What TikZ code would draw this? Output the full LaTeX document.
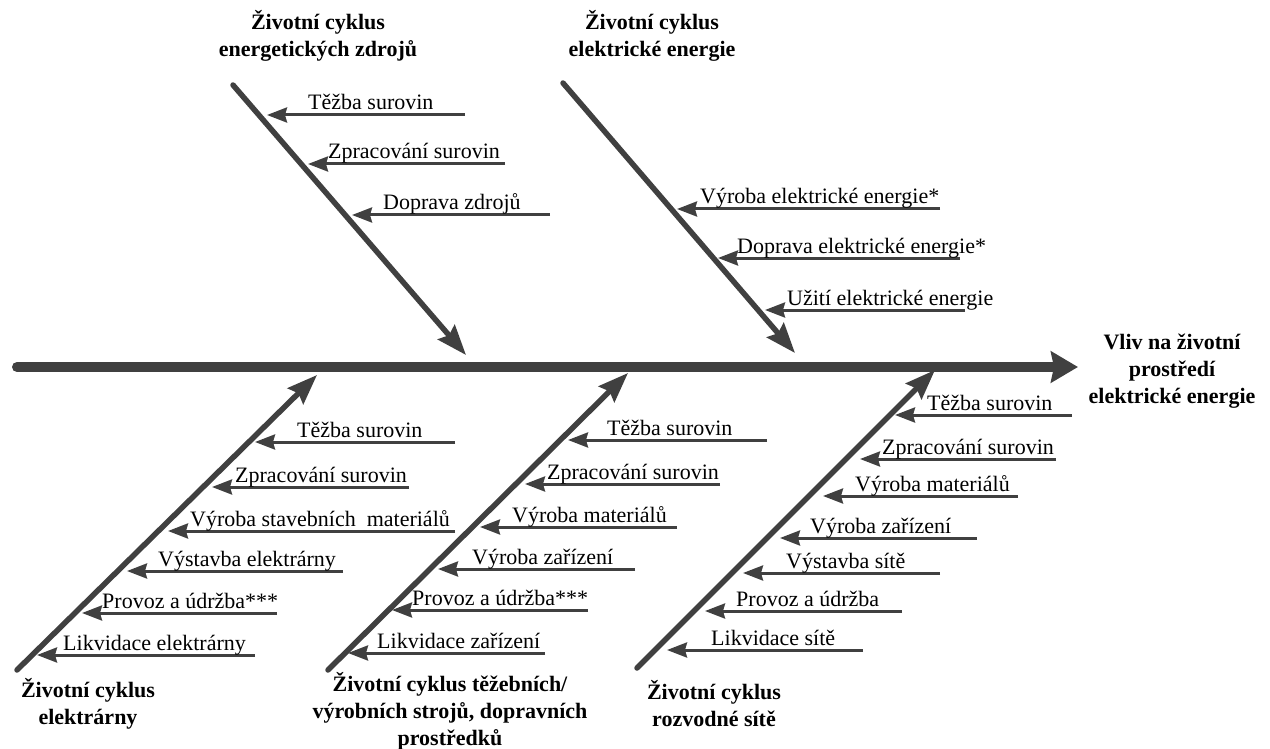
\documentclass[tikz,border=0pt]{standalone}
\usepackage{fontspec}
\setmainfont{Liberation Serif}
\usetikzlibrary{arrows.meta}
\definecolor{bonegray}{HTML}{404040}
\tikzset{
  spine/.style={draw=bonegray, line width=10pt, line cap=round,
    -{Stealth[length=27pt, width=31pt, inset=3pt]}},
  bone/.style={draw=bonegray, line width=5.5pt, line cap=round,
    -{Stealth[length=30pt, width=22pt, inset=4pt]}},
  cause/.style={draw=bonegray, line width=3pt,
    -{Stealth[length=20pt, width=15pt, inset=2pt]}},
  lbl/.style={anchor=base west, inner sep=0pt, font=\fontsize{22}{26}\selectfont},
  ttl/.style={inner sep=0pt, align=center, font=\bfseries\fontsize{22}{27}\selectfont}
}
\begin{document}
\begin{tikzpicture}[x=1pt, y=-1pt]
\useasboundingbox (0,0) rectangle (1270,749);

% main spine and effect
\coordinate (s0) at (17,367);
\coordinate (s1) at (1078,367);
\draw[spine] (s0) -- (s1);
\node[ttl] (effect) at (1172,371) {Vliv na životní\\prostředí\\elektrické energie};

% upper bones
\coordinate (A0) at (233,85);  \coordinate (A1) at (466,355);
\coordinate (B0) at (563,83);  \coordinate (B1) at (795,353);
\draw[bone] (A0) -- (A1);
\draw[bone] (B0) -- (B1);
\node[ttl] (tA) at (318,36) {Životní cyklus\\energetických zdrojů};
\node[ttl] (tB) at (652,36) {Životní cyklus\\elektrické energie};

% lower bones
\coordinate (C0) at (17,670);  \coordinate (C1) at (317,375);
\coordinate (D0) at (328,670); \coordinate (D1) at (628,373);
\coordinate (E0) at (637,668); \coordinate (E1) at (935,370);
\draw[bone] (C0) -- (C1);
\draw[bone] (D0) -- (D1);
\draw[bone] (E0) -- (E1);
\node[ttl] (tC) at (88,704) {Životní cyklus\\elektrárny};
\node[ttl] (tD) at (450,711) {Životní cyklus těžebních/\\výrobních strojů, dopravních\\prostředků};
\node[ttl] (tE) at (714,704) {Životní cyklus\\rozvodné sítě};

% causes on bone A
\coordinate (a1e) at (465,115); \coordinate (a1t) at (267,115);
\coordinate (a2e) at (505,164); \coordinate (a2t) at (308,164);
\coordinate (a3e) at (550,215); \coordinate (a3t) at (352,215);
\draw[cause] (a1e) -- (a1t);
\draw[cause] (a2e) -- (a2t);
\draw[cause] (a3e) -- (a3t);
\node[lbl] (a1) at (308,110) {Těžba surovin};
\node[lbl] (a2) at (328,159) {Zpracování surovin};
\node[lbl] (a3) at (383,210) {Doprava zdrojů};

% causes on bone B
\coordinate (b1e) at (940,209); \coordinate (b1t) at (677,209);
\coordinate (b2e) at (960,258); \coordinate (b2t) at (718,258);
\coordinate (b3e) at (965,310); \coordinate (b3t) at (765,310);
\draw[cause] (b1e) -- (b1t);
\draw[cause] (b2e) -- (b2t);
\draw[cause] (b3e) -- (b3t);
\node[lbl] (b1) at (700,204) {Výroba elektrické energie*};
\node[lbl] (b2) at (737,253) {Doprava elektrické energie*};
\node[lbl] (b3) at (787,305) {Užití elektrické energie};

% causes on bone C
\coordinate (c1e) at (455,442); \coordinate (c1t) at (255,442);
\coordinate (c2e) at (409,487); \coordinate (c2t) at (212,487);
\coordinate (c3e) at (455,531); \coordinate (c3t) at (168,531);
\coordinate (c4e) at (343,571); \coordinate (c4t) at (127,571);
\coordinate (c5e) at (277,613); \coordinate (c5t) at (82,613);
\coordinate (c6e) at (255,655); \coordinate (c6t) at (37,655);
\foreach \i in {1,...,6} {\draw[cause] (c\i e) -- (c\i t);}
\node[lbl] (c1) at (297,437) {Těžba surovin};
\node[lbl] (c2) at (235,482) {Zpracování surovin};
\node[lbl] (c3) at (190,526) {Výroba stavebních~ materiálů};
\node[lbl] (c4) at (158,566) {Výstavba elektrárny};
\node[lbl] (c5) at (102,608) {Provoz a údržba***};
\node[lbl] (c6) at (63,650) {Likvidace elektrárny};

% causes on bone D
\coordinate (d1e) at (767,440); \coordinate (d1t) at (568,440);
\coordinate (d2e) at (720,484); \coordinate (d2t) at (525,484);
\coordinate (d3e) at (677,527); \coordinate (d3t) at (480,527);
\coordinate (d4e) at (635,569); \coordinate (d4t) at (438,569);
\coordinate (d5e) at (588,610); \coordinate (d5t) at (392,610);
\coordinate (d6e) at (545,653); \coordinate (d6t) at (348,653);
\foreach \i in {1,...,6} {\draw[cause] (d\i e) -- (d\i t);}
\node[lbl] (d1) at (607,435) {Těžba surovin};
\node[lbl] (d2) at (547,479) {Zpracování surovin};
\node[lbl] (d3) at (512,522) {Výroba materiálů};
\node[lbl] (d4) at (472,564) {Výroba zařízení};
\node[lbl] (d5) at (412,605) {Provoz a údržba***};
\node[lbl] (d6) at (377,648) {Likvidace zařízení};

% causes on bone E
\coordinate (e1e) at (1072,415); \coordinate (e1t) at (895,415);
\coordinate (e2e) at (1056,459); \coordinate (e2t) at (860,459);
\coordinate (e3e) at (1018,496); \coordinate (e3t) at (823,496);
\coordinate (e4e) at (977,538);  \coordinate (e4t) at (780,538);
\coordinate (e5e) at (940,573);  \coordinate (e5t) at (743,573);
\coordinate (e6e) at (902,611);  \coordinate (e6t) at (705,611);
\coordinate (e7e) at (863,650);  \coordinate (e7t) at (667,650);
\foreach \i in {1,...,7} {\draw[cause] (e\i e) -- (e\i t);}
\node[lbl] (e1) at (927,410) {Těžba surovin};
\node[lbl] (e2) at (882,454) {Zpracování surovin};
\node[lbl] (e3) at (855,491) {Výroba materiálů};
\node[lbl] (e4) at (810,533) {Výroba zařízení};
\node[lbl] (e5) at (786,568) {Výstavba sítě};
\node[lbl] (e6) at (736,606) {Provoz a údržba};
\node[lbl] (e7) at (711,645) {Likvidace sítě};
\end{tikzpicture}
\end{document}
